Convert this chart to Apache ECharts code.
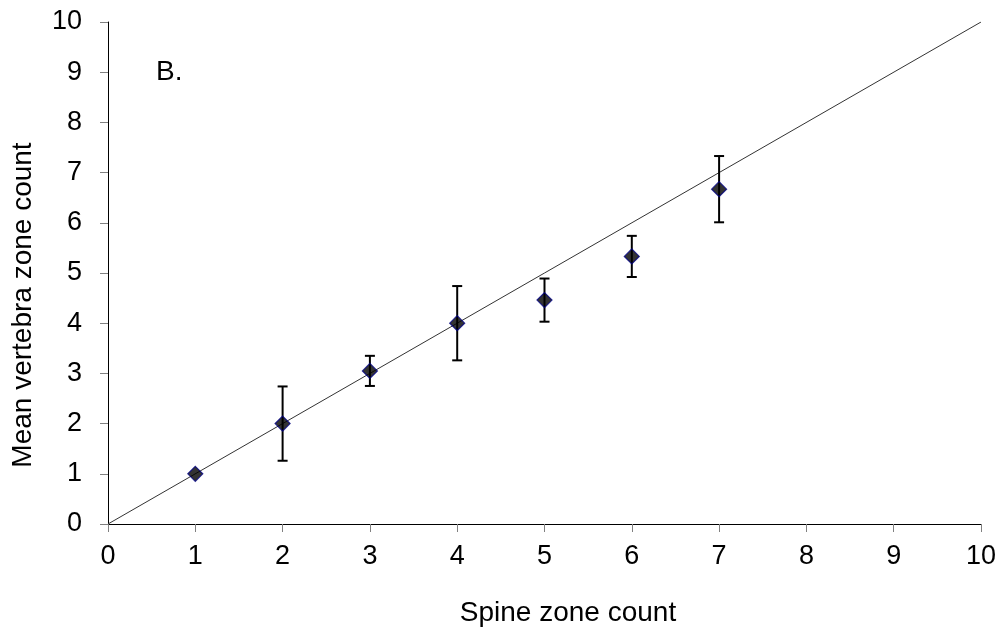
<!DOCTYPE html>
<html><head><meta charset="utf-8">
<script src="https://cdn.jsdelivr.net/npm/echarts@6/dist/echarts.min.js"></script>
<style>html,body{margin:0;padding:0;background:#fff}#c{width:1002px;height:635px}</style>
</head><body><div id="c"></div>
<script>
var spineCounts = [1, 2, 3, 4, 5, 6, 7];
var meanVertebra = [1.0, 2.0, 3.05, 4.0, 4.46, 5.33, 6.67];
var errorHalf = [0, 0.74, 0.3, 0.74, 0.43, 0.41, 0.66];
var identityLine = [[0, 0], [10, 10]];
var xTitle = 'Spine zone count';
var yTitle = 'Mean vertebra zone count';
var panelLabel = 'B.';

var points = spineCounts.map(function (x, i) { return [x, meanVertebra[i]]; });
var errData = spineCounts.map(function (x, i) {
  return [x, meanVertebra[i] - errorHalf[i], meanVertebra[i] + errorHalf[i]];
});

var font = 'Liberation Sans, Arial, sans-serif';
var chart = echarts.init(document.getElementById('c'));
chart.setOption({
  animation: false,
  backgroundColor: '#fff',
  graphic: [
    { type: 'text', left: 156, top: 58, style: { text: panelLabel, font: '28px ' + font, fill: '#000' } },
    { type: 'text', x: 568, y: 613, style: { text: xTitle, font: '28px ' + font, fill: '#000', align: 'center', verticalAlign: 'middle' } },
    { type: 'text', x: 23, y: 305, rotation: Math.PI / 2, style: { text: yTitle, font: '28px ' + font, fill: '#000', align: 'center', verticalAlign: 'middle' } }
  ],
  grid: { left: 108, top: 22, right: 21, bottom: 111, containLabel: false },
  xAxis: {
    type: 'value', min: 0, max: 10, interval: 1,
    axisLine: { show: true, onZero: false, lineStyle: { color: '#000', width: 1 } },
    axisTick: { show: true, length: 8, lineStyle: { color: '#808080' } },
    axisLabel: { fontFamily: font, fontSize: 27, color: '#000', margin: 19 },
    splitLine: { show: false }
  },
  yAxis: {
    type: 'value', min: 0, max: 10, interval: 1,
    axisLine: { show: true, onZero: false, lineStyle: { color: '#000', width: 1 } },
    axisTick: { show: true, length: 8, lineStyle: { color: '#808080' } },
    axisLabel: { fontFamily: font, fontSize: 27, color: '#000', margin: 26 },
    splitLine: { show: false }
  },
  series: [
    {
      type: 'line', data: identityLine, symbol: 'none',
      lineStyle: { color: '#333', width: 1 }, z: 1
    },
    {
      type: 'custom', data: errData, z: 2,
      renderItem: function (params, api) {
        var x = api.value(0);
        var lo = api.coord([x, api.value(1)]);
        var hi = api.coord([x, api.value(2)]);
        var hw = 5;
        if (Math.abs(lo[1] - hi[1]) < 1) return { type: 'group', children: [] };
        var st = { stroke: '#000', lineWidth: 2 };
        return {
          type: 'group',
          children: [
            { type: 'line', shape: { x1: hi[0], y1: hi[1], x2: lo[0], y2: lo[1] }, style: st },
            { type: 'line', shape: { x1: hi[0] - hw, y1: hi[1], x2: hi[0] + hw, y2: hi[1] }, style: st },
            { type: 'line', shape: { x1: lo[0] - hw, y1: lo[1], x2: lo[0] + hw, y2: lo[1] }, style: st }
          ]
        };
      }
    },
    {
      type: 'scatter', data: points, symbol: 'diamond', symbolSize: 15, z: 3,
      itemStyle: { color: '#000', borderColor: '#000080', borderWidth: 1.2 }
    }
  ]
});
</script></body></html>
